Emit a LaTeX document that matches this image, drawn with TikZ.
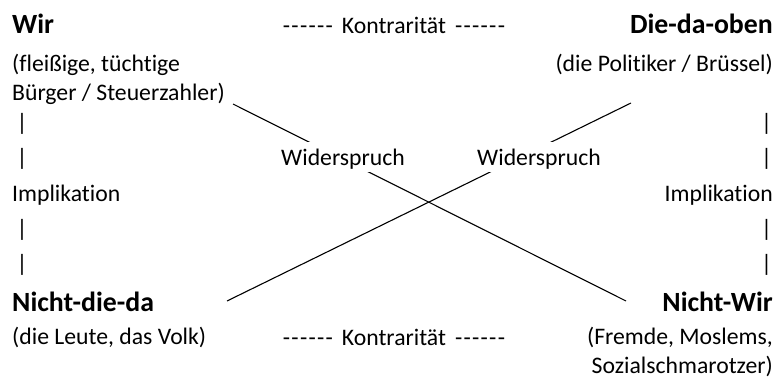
\documentclass[tikz,border=0pt]{standalone}
\usepackage{fontspec}
\setmainfont{Carlito}[Ligatures={NoCommon}]
\newcommand\hyphx{\mbox{-}\kern1.3pt}
\newcommand\dashrun{\hyphx\hyphx\hyphx\hyphx\hyphx\mbox{-}}
\begin{document}
\begin{tikzpicture}[x=1pt,y=-1pt,
  txt/.style={inner sep=0pt, font=\fontsize{23.7}{29}\selectfont},
  head/.style={inner sep=0pt, font=\fontsize{27.8}{33}\selectfont\bfseries},
  lbl/.style={txt, fill=white, text height=19pt, text depth=3pt, inner ysep=4pt, inner xsep=2pt},
  conn/.style={line width=1.1pt, black}]
\useasboundingbox[fill=white] (0,0) rectangle (779,378);
% top row
\node[head, anchor=base west] (wir) at (12,33) {Wir};
\node[head, anchor=base east] (oben) at (773,33) {Die-da-oben};
\node[txt, anchor=base] (kontra1) at (394,33) {\dashrun\hspace{9pt}Kontrarität\hspace{9pt}\dashrun};
% left column
\node[txt, anchor=base west] (wir1) at (12,71) {(fleißige, tüchtige};
\node[txt, anchor=base west] (wir2) at (12,100) {Bürger / Steuerzahler)};
\node[txt, anchor=base] (lb1) at (22,130) {|};
\node[txt, anchor=base] (lb2) at (22,165) {|};
\node[txt, anchor=base west] (limp) at (12,201.5) {Implikation};
\node[txt, anchor=base] (lb3) at (22,236) {|};
\node[txt, anchor=base] (lb4) at (22,271) {|};
\node[head, anchor=base west] (nd) at (12,311) {Nicht-die-da};
\node[txt, anchor=base west] (nd1) at (12,344) {(die Leute, das Volk)};
% right column
\node[txt, anchor=base east] (oben1) at (773,71) {(die Politiker / Brüssel)};
\node[txt, anchor=base] (rb1) at (766.5,130) {|};
\node[txt, anchor=base] (rb2) at (766.5,165) {|};
\node[txt, anchor=base east] (rimp) at (773,201.5) {Implikation};
\node[txt, anchor=base] (rb3) at (766.5,236) {|};
\node[txt, anchor=base] (rb4) at (766.5,271) {|};
\node[head, anchor=base east] (nw) at (773,311) {Nicht-Wir};
\node[txt, anchor=base east] (nw1) at (773,344) {(Fremde, Moslems,};
\node[txt, anchor=base east] (nw2) at (773,373) {Sozialschmarotzer)};
% bottom centre
\node[txt, anchor=base] (kontra2) at (394,345) {\dashrun\hspace{9pt}Kontrarität\hspace{9pt}\dashrun};
% connectors
\coordinate (a1) at (233,104);
\coordinate (a2) at (626,301);
\coordinate (b1) at (227,301);
\coordinate (b2) at (631,103);
\draw[conn] (a1) -- (a2);
\draw[conn] (b1) -- (b2);
% labels on top of the connectors
\node[lbl, anchor=base] (w1) at (343,165) {Widerspruch};
\node[lbl, anchor=base] (w2) at (539,165) {Widerspruch};
\end{tikzpicture}
\end{document}
